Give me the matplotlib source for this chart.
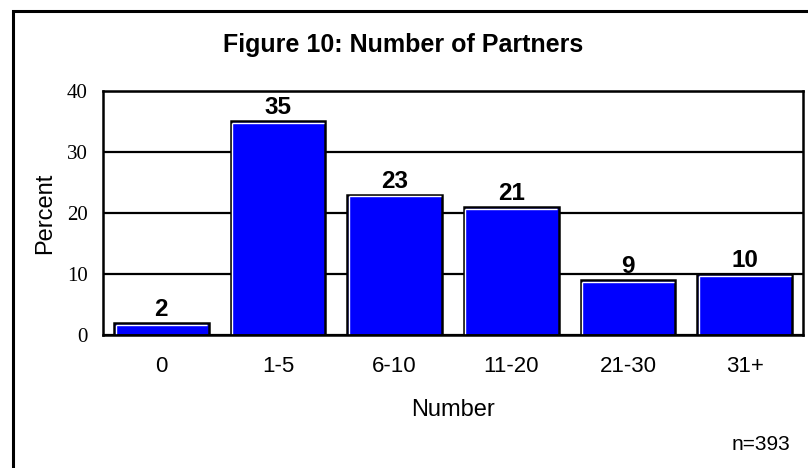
import matplotlib.pyplot as plt
from matplotlib.patches import Rectangle

categories = ['0', '1-5', '6-10', '11-20', '21-30', '31+']
percent = [2, 35, 23, 21, 9, 10]
y_ticks = [0, 10, 20, 30, 40]

sans = 'Liberation Sans'
serif = 'Liberation Serif'

fig = plt.figure(figsize=(8.08, 4.68), dpi=100)
ax = fig.add_axes([0.1275, 0.2842, 0.8663, 0.5214])

x = range(len(categories))
width = 0.81
bars = ax.bar(x, percent, width=width, color='#0000ff', edgecolor='black',
              linewidth=1.8, zorder=3)

# white bevel on top and left of each bar
for b in bars:
    x0 = b.get_x()
    h = b.get_height()
    ax.plot([x0 + 0.012, x0 + b.get_width() - 0.012], [h - 0.28, h - 0.28],
            color='white', lw=1, zorder=4, solid_capstyle='butt')
    ax.plot([x0 + 0.012, x0 + 0.012], [0.2, h - 0.28],
            color='white', lw=1, zorder=4, solid_capstyle='butt')

for xi, v in zip(x, percent):
    ax.annotate(str(v), (xi, v), xytext=(0, 1.5), textcoords='offset points',
                ha='center', va='bottom', fontsize=17.5, fontweight='bold',
                family=sans)

ax.set_xlim(-0.5, len(categories) - 0.5)
ax.set_ylim(0, 40)
ax.set_yticks(y_ticks)
ax.set_yticklabels([str(t) for t in y_ticks], family=serif, fontsize=15)
ax.set_xticks(list(x))
ax.set_xticklabels(categories, family=sans, fontsize=16)
ax.tick_params(axis='y', length=0, pad=11)
ax.tick_params(axis='x', length=0, pad=15)
ax.grid(axis='y', color='black', lw=1.6, zorder=1)
for s in ax.spines.values():
    s.set_linewidth(1.8)
    s.set_zorder(5)

ax.set_ylabel('Percent', family=sans, fontsize=17, labelpad=8)
ax.set_xlabel('Number', family=sans, fontsize=17, labelpad=16)

fig.text(0.499, 0.904, 'Figure 10: Number of Partners', ha='center',
         va='center', fontsize=18, fontweight='bold', family=sans)
fig.text(0.978, 0.05, 'n=393', ha='right', va='center', fontsize=15,
         family=sans)

# outer frame (runs off the right and bottom edges)
fig.patches.append(Rectangle((13 / 808, -0.2), 1.2, 1.1765,
                             transform=fig.transFigure, fill=False,
                             edgecolor='black', lw=2.2))

fig.savefig('out.png', dpi=100)
